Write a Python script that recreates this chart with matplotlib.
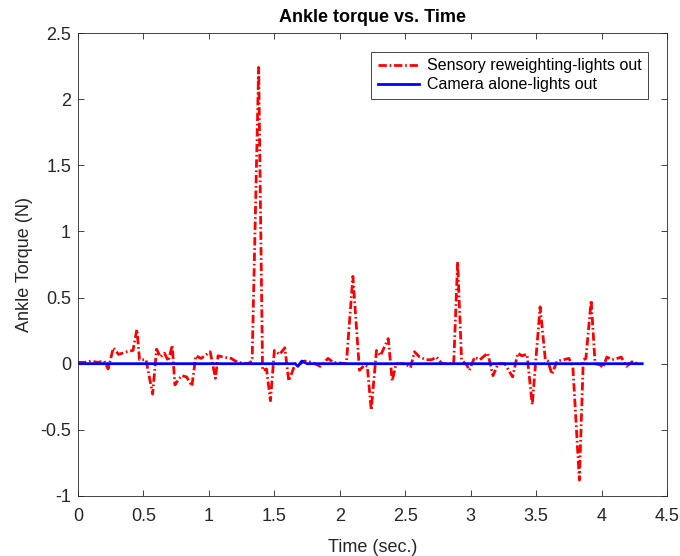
import matplotlib
matplotlib.use("Agg")
from matplotlib import pyplot as plt
import numpy as np

plt.rcParams['font.family'] = ['Liberation Sans', 'DejaVu Sans']

# red series: sensory reweighting (time, torque)
t_sensory = [0.0, 0.05, 0.10, 0.15, 0.20, 0.23, 0.27, 0.31, 0.37, 0.42, 0.45, 0.47, 0.52,
             0.57, 0.60, 0.63, 0.66, 0.69, 0.72, 0.74, 0.79, 0.83, 0.87, 0.90, 0.94,
             1.01, 1.05, 1.07, 1.11, 1.17, 1.22, 1.30, 1.33, 1.38, 1.41, 1.44, 1.47,
             1.50, 1.54, 1.58, 1.61, 1.66, 1.70, 1.73, 1.79, 1.85, 1.91, 1.95, 2.05,
             2.10, 2.15, 2.19, 2.21, 2.24, 2.28, 2.31, 2.37, 2.40, 2.43, 2.47, 2.50,
             2.54, 2.57, 2.61, 2.66, 2.70, 2.74, 2.78, 2.82, 2.87, 2.90, 2.93, 2.97,
             2.99, 3.03, 3.07, 3.13, 3.17, 3.21, 3.26, 3.32, 3.36, 3.39, 3.43, 3.47,
             3.53, 3.57, 3.59, 3.62, 3.66, 3.71, 3.75, 3.78, 3.83, 3.86, 3.88, 3.92,
             3.95, 3.99, 4.01, 4.04, 4.08, 4.12, 4.15, 4.19, 4.24, 4.27]
y_sensory = [0.01, 0.01, 0.02, 0.01, 0.02, -0.04, 0.12, 0.07, 0.09, 0.10, 0.26, 0.03, 0.03,
             -0.23, 0.11, 0.05, 0.08, 0.02, 0.14, -0.16, -0.09, -0.10, -0.17, 0.06, 0.04,
             0.09, -0.11, 0.06, 0.05, 0.04, 0.01, 0.00, 0.02, 2.24, -0.05, -0.04, -0.28,
             0.10, 0.07, 0.12, -0.13, 0.00, 0.00, 0.02, 0.01, -0.02, 0.04, 0.01, 0.00,
             0.66, -0.05, -0.01, -0.02, -0.35, 0.10, 0.06, 0.19, -0.13, 0.00, 0.00, 0.00,
             -0.03, 0.09, 0.05, 0.03, 0.03, 0.05, 0.00, 0.00, 0.00, 0.77, 0.03, -0.01,
             -0.05, 0.05, 0.03, 0.08, -0.09, 0.00, 0.00, -0.10, 0.08, 0.06, 0.07, -0.31,
             0.43, 0.03, 0.02, -0.08, 0.02, 0.03, 0.04, -0.02, -0.88, 0.03, 0.04, 0.48,
             0.00, -0.01, -0.03, 0.05, 0.03, 0.04, 0.05, -0.02, 0.02, 0.00]

# blue series: camera alone
t_camera = [0.0, 1.60, 1.66, 1.68, 1.71, 1.75, 4.31]
y_camera = [0.0, 0.0, 0.0, -0.02, 0.02, 0.0, 0.0]

fig = plt.figure(figsize=(6.8, 5.56), dpi=100)
ax = fig.add_axes([0.1147, 0.108, 0.8663, 0.8326])

ax.plot(t_sensory, y_sensory, color="red", linestyle=(0, (3.0, 1.0, 0.6, 1.0)), linewidth=2,
        label="Sensory reweighting-lights out")
ax.plot(t_camera, y_camera, color="blue", linestyle="-", linewidth=2,
        label="Camera alone-lights out")

ax.set_xlim(0, 4.5)
ax.set_ylim(-1, 2.5)
ax.set_xticks(np.arange(0, 4.51, 0.5))
ax.set_xticklabels(["0", "0.5", "1", "1.5", "2", "2.5", "3", "3.5", "4", "4.5"])
ax.set_yticks(np.arange(-1, 2.51, 0.5))
ax.set_yticklabels(["-1", "-0.5", "0", "0.5", "1", "1.5", "2", "2.5"])
ax.tick_params(direction="in", top=True, right=True, labelsize=13, colors="#262626",
               length=4, width=0.6)
ax.tick_params(axis="x", pad=9)
ax.tick_params(axis="y", pad=5)
for s in ax.spines.values():
    s.set_color("#262626")
    s.set_linewidth(0.6)

ax.set_title("Ankle torque vs. Time", fontweight="bold", fontsize=13, pad=8)
ax.set_xlabel("Time (sec.)", fontsize=13, color="#262626", labelpad=10)
ax.set_ylabel("Ankle Torque (N)", fontsize=13, color="#262626", labelpad=5)

leg = ax.legend(loc="upper right", bbox_to_anchor=(0.968, 0.959), borderaxespad=0,
                fontsize=11.5, fancybox=False, edgecolor="#262626", framealpha=1,
                handlelength=2.6, handletextpad=0.5, borderpad=0.4, labelspacing=0.25)
leg.get_frame().set_linewidth(0.6)

plt.savefig("out.png", dpi=100)
